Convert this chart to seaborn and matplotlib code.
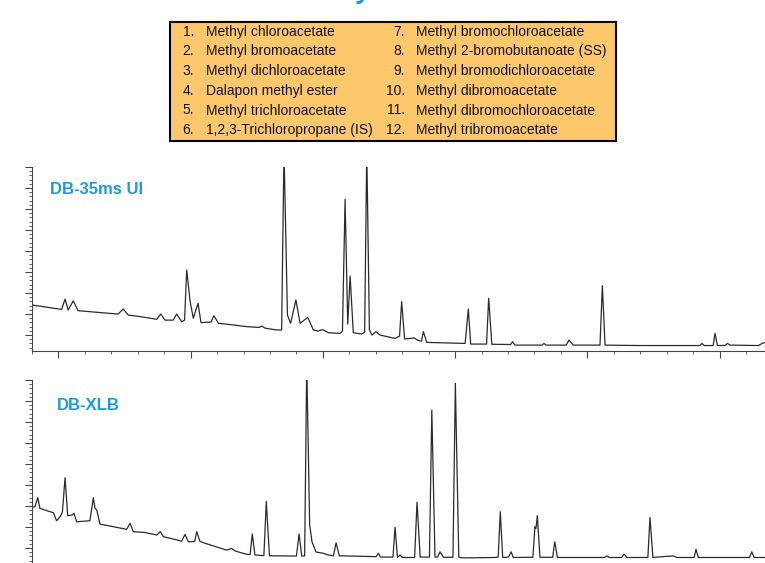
import matplotlib
matplotlib.use("Agg")
import matplotlib.pyplot as plt
from matplotlib.patches import Rectangle
from matplotlib.ticker import MultipleLocator
import pandas as pd
import seaborn as sns

# compound key shown in the orange box
compounds = [
    "Methyl chloroacetate",
    "Methyl bromoacetate",
    "Methyl dichloroacetate",
    "Dalapon methyl ester",
    "Methyl trichloroacetate",
    "1,2,3-Trichloropropane (IS)",
    "Methyl bromochloroacetate",
    "Methyl 2-bromobutanoate (SS)",
    "Methyl bromodichloroacetate",
    "Methyl dibromoacetate",
    "Methyl dibromochloroacetate",
    "Methyl tribromoacetate",
]

# DB-35ms UI trace (retention time in min, detector response)
db35_time = [
    4.00, 5.12, 5.25, 5.37, 5.56, 5.74, 6.95, 7.26, 7.45, 7.64, 7.96, 8.72,
    8.87, 9.03, 9.34, 9.47, 9.66, 9.77, 9.85, 9.98, 10.10, 10.28, 10.39, 10.77,
    10.88, 11.05, 11.61, 12.12, 12.59, 12.69, 12.81, 13.25, 13.44, 13.53, 13.66, 13.78,
    13.98, 14.14, 14.43, 14.64, 14.82, 14.99, 15.21, 15.65, 15.74, 15.84, 15.94, 16.03,
    16.15, 16.47, 16.58, 16.66, 16.76, 16.86, 17.01, 17.16, 17.73, 17.90, 17.98, 18.09,
    18.46, 18.60, 18.73, 18.80, 18.93, 20.38, 20.50, 20.59, 21.19, 21.27, 21.39, 22.10,
    22.17, 22.27, 23.29, 23.36, 23.44, 24.20, 24.31, 24.47, 25.48, 25.57, 25.67, 27.00,
    29.26, 29.33, 29.42, 29.76, 29.83, 29.92, 30.21, 30.30, 30.40, 31.47, 31.66, 31.72,
]
db35_signal = [
    14.3, 12.2, 17.1, 11.9, 16.3, 11.6, 10.3, 10.0, 12.4, 9.5, 9.0, 7.5,
    10.0, 7.1, 7.1, 10.0, 6.3, 7.1, 31.0, 15.9, 8.0, 15.1, 5.9, 6.2,
    9.2, 5.6, 4.8, 4.0, 3.6, 4.3, 3.3, 2.4, 2.4, 88.0, 9.5, 5.6,
    16.7, 5.6, 8.4, 2.4, 1.9, 2.6, 1.1, 0.8, 1.9, 64.6, 5.2, 28.1,
    1.1, 0.5, 1.4, 88.0, 2.4, 0.0, 1.6, 0.0, -1.6, -0.5, 15.9, -1.9,
    -1.4, -2.6, -2.9, 1.6, -3.5, -4.0, 12.4, -4.3, -4.3, 17.5, -4.4, -4.5,
    -3.2, -4.8, -4.8, -4.0, -4.8, -4.8, -2.4, -4.8, -4.8, 23.5, -4.8, -5.0,
    -5.0, -4.0, -5.0, -5.0, 0.8, -5.0, -5.0, -4.0, -4.8, -5.0, -3.7, -3.7,
]

# DB-XLB trace
xlb_time = [
    4.00, 4.11, 4.22, 4.30, 4.56, 4.81, 4.93, 5.06, 5.15, 5.25, 5.35, 5.51,
    5.59, 5.69, 6.19, 6.32, 6.38, 6.45, 6.57, 7.58, 7.71, 7.83, 8.27, 8.72,
    8.85, 8.97, 9.66, 9.79, 9.91, 10.15, 10.23, 10.35, 10.51, 11.36, 11.55, 11.68,
    12.12, 12.25, 12.33, 12.43, 12.77, 12.86, 12.98, 14.00, 14.10, 14.20, 14.31, 14.39,
    14.50, 14.59, 14.74, 15.02, 15.20, 15.40, 15.50, 15.62, 17.01, 17.10, 17.18, 17.65,
    17.73, 17.82, 17.92, 18.01, 18.47, 18.56, 18.68, 19.03, 19.12, 19.24, 19.34, 19.43,
    19.56, 19.92, 20.01, 20.14, 20.30, 21.51, 21.63, 21.71, 21.80, 22.02, 22.12, 22.20,
    22.94, 23.02, 23.06, 23.11, 23.21, 23.69, 23.77, 23.87, 25.65, 25.74, 25.82, 26.30,
    26.39, 26.50, 27.29, 27.37, 27.48, 27.94, 28.26, 28.39, 29.04, 29.11, 29.20, 31.13,
    31.22, 31.31, 31.72,
]
xlb_signal = [
    19.4, 19.7, 24.0, 18.9, 17.8, 16.8, 13.0, 14.9, 17.1, 33.5, 15.4, 15.7,
    16.5, 12.5, 13.0, 24.0, 19.0, 18.1, 11.4, 8.9, 11.8, 7.8, 7.4, 6.2,
    7.8, 5.4, 3.3, 6.5, 3.0, 3.1, 7.8, 3.2, 2.4, -1.0, -0.2, -1.4,
    -3.0, -3.1, 6.7, -3.3, -3.6, 22.2, -3.7, -3.8, 6.7, -3.8, -3.8, 88.0,
    11.0, 2.9, -1.9, -2.5, -3.3, -3.7, 2.5, -3.7, -4.1, -2.5, -4.3, -4.3,
    9.9, -4.5, -3.3, -4.5, -4.5, 21.8, -4.3, -4.3, 65.7, -4.3, -4.3, -1.8,
    -4.4, -4.4, 78.4, -4.4, -4.7, -4.5, -4.3, 17.3, -4.5, -4.3, -1.8, -4.5,
    -4.4, 10.1, 9.3, 15.4, -4.4, -4.4, 3.0, -4.5, -4.5, -3.8, -4.5, -4.5,
    -2.9, -4.5, -4.5, 14.6, -4.5, -4.0, -3.8, -4.5, -4.5, -0.6, -4.5, -4.5,
    -1.8, -4.5, -4.5,
]

W, H = 765, 563
BLUE = "#1a9ae8"
ORANGE = "#fdc86b"
TRACE = "#2b2b2b"


def fx(px):
    return px / W


def fy(py):
    return 1 - py / H


def chrom_panel(fig, top_px, time, signal, label, label_px):
    ax = fig.add_axes([fx(32), fy(top_px + 184), fx(W - 32), 184 / H])
    df = pd.DataFrame({"time": time, "signal": signal})
    sns.lineplot(data=df, x="time", y="signal", ax=ax, color=TRACE,
                 linewidth=0.9, estimator=None, sort=False)
    ax.set_xlim(4, 31.72)
    ax.set_ylim(-7.6, 80)
    ax.set(xlabel="", ylabel="")
    ax.xaxis.set_major_locator(MultipleLocator(5))
    ax.xaxis.set_minor_locator(MultipleLocator(1))
    ax.yaxis.set_major_locator(MultipleLocator(10))
    ax.yaxis.set_minor_locator(MultipleLocator(2))
    ax.tick_params(which="major", length=5, width=0.8, color="#444",
                   labelbottom=False, labelleft=False)
    ax.tick_params(which="minor", length=2.5, width=0.6, color="#444")
    sns.despine(ax=ax)
    for side in ("left", "bottom"):
        ax.spines[side].set_color("#444")
        ax.spines[side].set_linewidth(0.8)
    fig.text(fx(label_px[0]), fy(label_px[1]), label, color=BLUE,
             fontsize=12, fontweight="bold", va="center", ha="left")
    return ax


def main():
    sns.set_style("ticks")
    plt.rcParams["font.family"] = ["Liberation Sans", "DejaVu Sans"]

    fig = plt.figure(figsize=(W / 100, H / 100), dpi=100)

    # title sits above the crop, only a descender peeks in
    fig.text(fx(363), fy(-2), "y", color=BLUE, fontsize=20,
             fontweight="bold", ha="center", va="baseline")

    # compound key
    fig.patches.append(Rectangle((fx(170), fy(141)), fx(616) - fx(170),
                                 fy(22) - fy(141), transform=fig.transFigure,
                                 facecolor=ORANGE, edgecolor="black",
                                 linewidth=1.5, figure=fig))
    for i, name in enumerate(compounds):
        col, row = divmod(i, 6)
        ypx = 31.7 + row * 19.7
        num_x = 194 if col == 0 else 405
        name_x = 206 if col == 0 else 416
        fig.text(fx(num_x), fy(ypx), f"{i + 1}.", fontsize=10,
                 ha="right", va="center", color="#111")
        fig.text(fx(name_x), fy(ypx), name, fontsize=10,
                 ha="left", va="center", color="#111")

    chrom_panel(fig, 167, db35_time, db35_signal, "DB-35ms UI", (50, 190))
    chrom_panel(fig, 380, xlb_time, xlb_signal, "DB-XLB", (57, 405))

    fig.savefig("out.png", dpi=100)


if __name__ == "__main__":
    main()
